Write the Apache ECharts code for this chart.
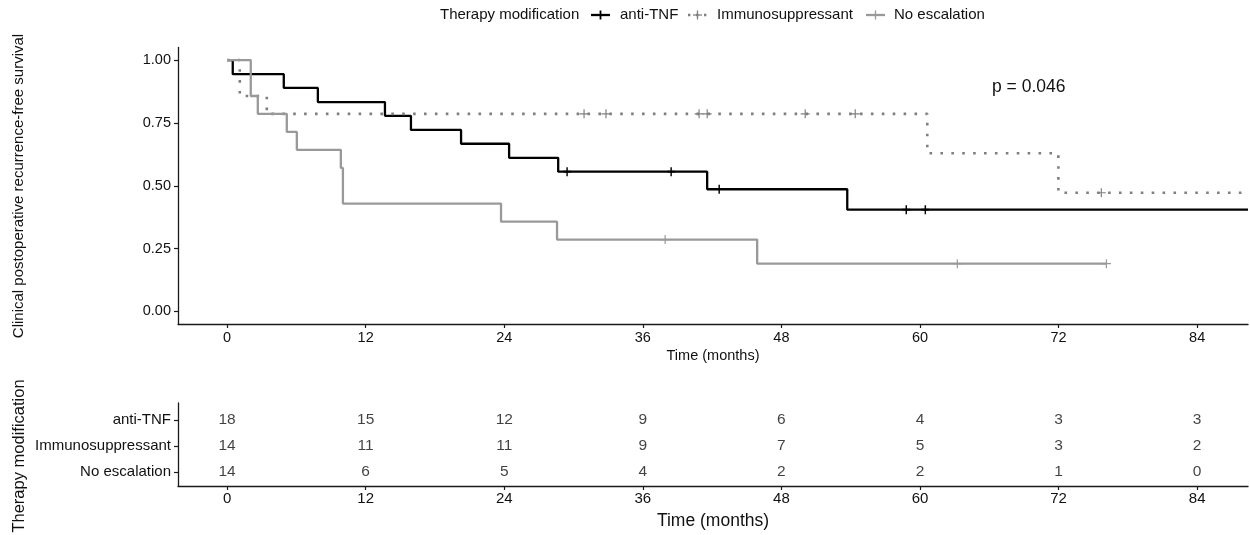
<!DOCTYPE html>
<html><head><meta charset="utf-8">
<script src="https://cdn.jsdelivr.net/npm/echarts@6/dist/echarts.min.js"></script>
<style>html,body{margin:0;padding:0;background:#fff}#c{width:1250px;height:535px}</style>
</head><body><div id="c"></div>
<script>
// ---------- data ----------
const groups = ['anti-TNF', 'Immunosuppressant', 'No escalation'];
const xTicks = [0, 12, 24, 36, 48, 60, 72, 84];
const yTicks = [0, 0.25, 0.5, 0.75, 1];

// Kaplan-Meier step points (time in months, survival after that time)
const tnfTime = [0, 0.49, 4.91, 7.86, 13.67, 15.92, 20.26, 24.42, 28.67, 41.57, 53.70, 88.4];
const tnfSurv = [1, 0.944, 0.889, 0.833, 0.778, 0.722, 0.667, 0.611, 0.556, 0.486, 0.405, 0.405];
const tnfCensTime = [29.44, 38.45, 42.61, 58.81, 60.46];
const tnfCensSurv = [0.556, 0.556, 0.486, 0.405, 0.405];

const immTime = [0, 1.10, 3.44, 60.63, 71.98, 88.4];
const immSurv = [1, 0.857, 0.786, 0.629, 0.472, 0.472];
const immCensTime = [30.91, 32.81, 40.87, 41.57, 50.06, 54.39, 75.70];
const immCensSurv = [0.786, 0.786, 0.786, 0.786, 0.786, 0.786, 0.472];

const noTime = [0, 2.05, 2.66, 5.17, 6.04, 9.85, 10.03, 23.72, 28.57, 45.90, 76.14];
const noSurv = [1, 0.857, 0.786, 0.714, 0.643, 0.571, 0.429, 0.357, 0.286, 0.190, 0.190];
const noCensTime = [37.93, 63.23, 76.14];
const noCensSurv = [0.286, 0.190, 0.190];

// number at risk at xTicks
const riskTnf = [18, 15, 12, 9, 6, 4, 3, 3];
const riskImm = [14, 11, 11, 9, 7, 5, 3, 2];
const riskNo = [14, 6, 5, 4, 2, 2, 1, 0];

const pValueText = 'p = 0.046';
const legendTitle = 'Therapy modification';
const xTitle = 'Time (months)';
const yTitle = 'Clinical postoperative recurrence-free survival';
const tableYTitle = 'Therapy modification';

// ---------- helpers ----------
const FONT = '"Liberation Sans", Arial, Helvetica, sans-serif';
const TXT = '#111111';
const zip = (a, b) => a.map((v, i) => [v, b[i]]);
const PLUS = 'path://M4.1,0H5.9V10H4.1Z M0,4.1H10V5.9H0Z';
const PLUS_THIN = 'path://M4.35,0H5.65V10H4.35Z M0,4.35H10V5.65H0Z';
const C_TNF = '#000000', C_IMM = '#7f7f7f', C_NO = '#999999';

const riskData = [];
[riskTnf, riskImm, riskNo].forEach((arr, row) => {
  arr.forEach((n, i) => riskData.push([xTicks[i], row, n]));
});

const axisLineStyle = { color: '#1a1a1a', width: 1.3 };
const tickStyle = { color: '#1a1a1a', width: 1.2 };

const chart = echarts.init(document.getElementById('c'), null, { renderer: 'canvas' });

const option = {
  backgroundColor: '#ffffff',
  animation: false,
  textStyle: { fontFamily: FONT },
  grid: [
    { left: 178, right: 2, top: 47.5, height: 276.5, containLabel: false },
    { left: 178, right: 2, top: 403, height: 83, containLabel: false }
  ],
  xAxis: [
    {
      type: 'value', gridIndex: 0, min: -4.25, max: 88.4,
      axisLine: { show: true, onZero: false, lineStyle: axisLineStyle },
      axisTick: { show: true, length: 4, lineStyle: tickStyle, customValues: xTicks },
      axisLabel: { show: true, customValues: xTicks, margin: 6, color: TXT, fontSize: 14.5, fontFamily: FONT },
      splitLine: { show: false }
    },
    {
      type: 'value', gridIndex: 1, min: -4.25, max: 88.4,
      axisLine: { show: true, onZero: false, lineStyle: axisLineStyle },
      axisTick: { show: true, length: 4, lineStyle: tickStyle, customValues: xTicks },
      axisLabel: { show: true, customValues: xTicks, margin: 5, color: TXT, fontSize: 15, fontFamily: FONT },
      splitLine: { show: false }
    }
  ],
  yAxis: [
    {
      type: 'value', gridIndex: 0, min: -0.05, max: 1.05,
      axisLine: { show: true, onZero: false, lineStyle: axisLineStyle },
      axisTick: { show: true, length: 4, lineStyle: tickStyle, customValues: yTicks },
      axisLabel: { show: true, customValues: yTicks, margin: 7, color: TXT, fontSize: 14.5, fontFamily: FONT,
        formatter: v => Number(v).toFixed(2) },
      splitLine: { show: false }
    },
    {
      type: 'value', gridIndex: 1, min: -0.65, max: 2.54, inverse: true,
      axisLine: { show: true, onZero: false, lineStyle: axisLineStyle },
      axisTick: { show: true, length: 4, lineStyle: tickStyle, customValues: [0, 1, 2] },
      axisLabel: { show: true, customValues: [0, 1, 2], margin: 7, color: TXT, fontSize: 15, fontFamily: FONT,
        formatter: v => groups[Math.round(v)] },
      splitLine: { show: false }
    }
  ],
  series: [
    { name: groups[0], type: 'line', step: 'end', xAxisIndex: 0, yAxisIndex: 0, symbol: 'none', showSymbol: false,
      data: zip(tnfTime, tnfSurv), lineStyle: { color: C_TNF, width: 2.3 }, itemStyle: { color: C_TNF }, z: 3, silent: true },
    { name: groups[1], type: 'line', step: 'end', xAxisIndex: 0, yAxisIndex: 0, symbol: 'none', showSymbol: false,
      data: zip(immTime, immSurv), lineStyle: { color: C_IMM, width: 2.6, type: [2.6, 8.3], cap: 'butt' }, itemStyle: { color: C_IMM }, z: 3, silent: true },
    { name: groups[2], type: 'line', step: 'end', xAxisIndex: 0, yAxisIndex: 0, symbol: 'none', showSymbol: false,
      data: zip(noTime, noSurv), lineStyle: { color: C_NO, width: 2.3 }, itemStyle: { color: C_NO }, z: 3, silent: true },
    { name: 'cens-tnf', type: 'scatter', xAxisIndex: 0, yAxisIndex: 0, symbol: PLUS, symbolSize: [8, 9],
      data: zip(tnfCensTime, tnfCensSurv), itemStyle: { color: C_TNF, opacity: 1 }, z: 4, silent: true },
    { name: 'cens-imm', type: 'scatter', xAxisIndex: 0, yAxisIndex: 0, symbol: PLUS_THIN, symbolSize: [9, 9],
      data: zip(immCensTime, immCensSurv), itemStyle: { color: C_IMM, opacity: 1 }, z: 4, silent: true },
    { name: 'cens-no', type: 'scatter', xAxisIndex: 0, yAxisIndex: 0, symbol: PLUS_THIN, symbolSize: [9, 9],
      data: zip(noCensTime, noCensSurv), itemStyle: { color: C_NO, opacity: 1 }, z: 4, silent: true },
    { name: 'risk', type: 'scatter', xAxisIndex: 1, yAxisIndex: 1, symbol: 'circle', symbolSize: 1,
      data: riskData, itemStyle: { color: 'rgba(0,0,0,0)' }, silent: true,
      label: { show: true, position: 'inside', formatter: p => String(p.value[2]), color: TXT, fontSize: 15.5, fontFamily: FONT },
      labelLayout: { hideOverlap: false } }
  ],
  graphic: [
    // legend
    { type: 'text', x: 440, y: 15, style: { text: legendTitle, fontSize: 15, fontFamily: FONT, fill: TXT, textAlign: 'left', textVerticalAlign: 'middle' } },
    { type: 'line', shape: { x1: 591, y1: 15, x2: 610, y2: 15 }, style: { stroke: C_TNF, lineWidth: 2.3 } },
    { type: 'line', shape: { x1: 600.5, y1: 10.5, x2: 600.5, y2: 19.5 }, style: { stroke: C_TNF, lineWidth: 1.8 } },
    { type: 'text', x: 620, y: 15, style: { text: groups[0], fontSize: 15, fontFamily: FONT, fill: TXT, textAlign: 'left', textVerticalAlign: 'middle' } },
    { type: 'line', shape: { x1: 688, y1: 15, x2: 708, y2: 15 }, style: { stroke: C_IMM, lineWidth: 2.4, lineDash: [2.4, 5.6] } },
    { type: 'line', shape: { x1: 697.5, y1: 10.5, x2: 697.5, y2: 19.5 }, style: { stroke: C_IMM, lineWidth: 1.3 } },
    { type: 'line', shape: { x1: 693, y1: 15, x2: 702, y2: 15 }, style: { stroke: C_IMM, lineWidth: 1.3 } },
    { type: 'text', x: 717, y: 15, style: { text: groups[1], fontSize: 15, fontFamily: FONT, fill: TXT, textAlign: 'left', textVerticalAlign: 'middle' } },
    { type: 'line', shape: { x1: 866, y1: 15, x2: 885, y2: 15 }, style: { stroke: C_NO, lineWidth: 2.3 } },
    { type: 'line', shape: { x1: 875.5, y1: 10.5, x2: 875.5, y2: 19.5 }, style: { stroke: C_NO, lineWidth: 1.3 } },
    { type: 'text', x: 894, y: 15, style: { text: groups[2], fontSize: 15, fontFamily: FONT, fill: TXT, textAlign: 'left', textVerticalAlign: 'middle' } },
    // p-value
    { type: 'text', x: 992, y: 87, style: { text: pValueText, fontSize: 17.5, fontFamily: FONT, fill: TXT, textAlign: 'left', textVerticalAlign: 'middle' } },
    // axis titles
    { type: 'text', x: 713, y: 356, style: { text: xTitle, fontSize: 14.5, fontFamily: FONT, fill: TXT, textAlign: 'center', textVerticalAlign: 'middle' } },
    { type: 'text', x: 19, y: 186, rotation: Math.PI / 2, style: { text: yTitle, fontSize: 15, fontFamily: FONT, fill: TXT, textAlign: 'center', textVerticalAlign: 'middle' } },
    { type: 'text', x: 713, y: 521, style: { text: xTitle, fontSize: 17.5, fontFamily: FONT, fill: TXT, textAlign: 'center', textVerticalAlign: 'middle' } },
    { type: 'text', x: 19, y: 456, rotation: Math.PI / 2, style: { text: tableYTitle, fontSize: 16.5, fontFamily: FONT, fill: TXT, textAlign: 'center', textVerticalAlign: 'middle' } }
  ]
};
chart.setOption(option);
</script>
</body></html>
